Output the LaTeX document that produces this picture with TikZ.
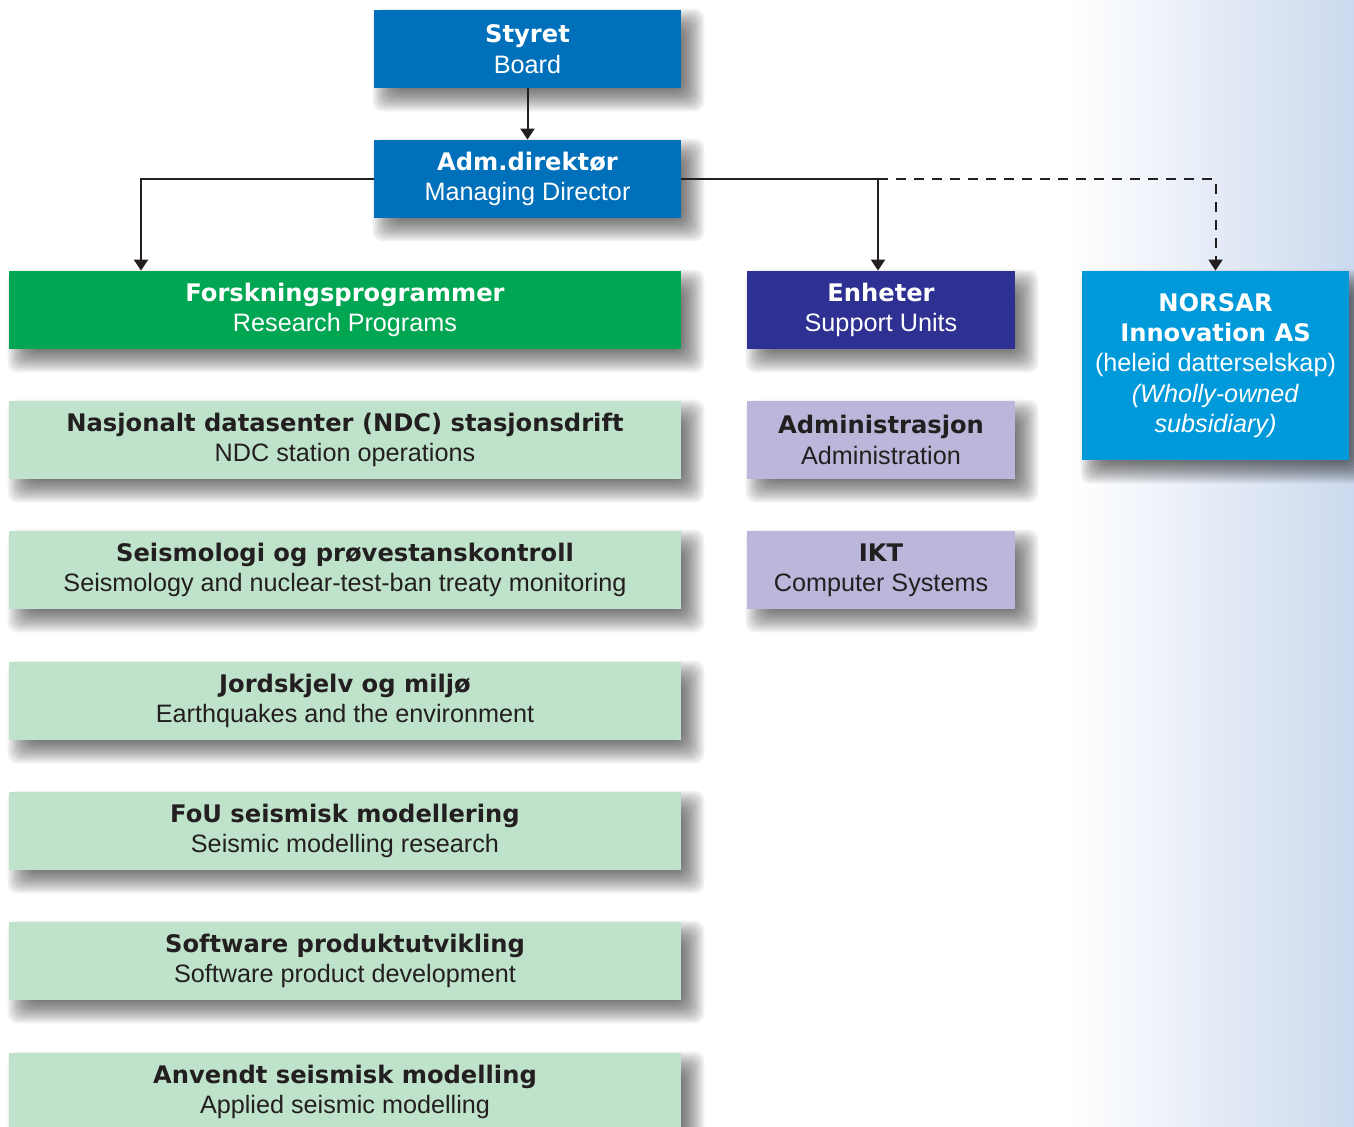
\documentclass[tikz,border=0pt]{standalone}
\usepackage{fontspec}
\setmainfont{Liberation Sans}
\newfontfamily\heavyfont{DejaVu Sans}
\usetikzlibrary{arrows.meta,positioning,calc}
\definecolor{boardblue}{RGB}{0,112,186}
\definecolor{progreen}{RGB}{0,166,81}
\definecolor{unitblue}{RGB}{46,49,146}
\definecolor{subblue}{RGB}{0,153,218}
\definecolor{palegreen}{RGB}{191,226,202}
\definecolor{lavender}{RGB}{186,183,219}
\definecolor{skyfade}{RGB}{204,217,238}
\definecolor{inkdark}{RGB}{35,31,32}
\pgfdeclarelayer{back}
\pgfdeclarelayer{shadow}
\pgfsetlayers{back,shadow,main}
\newcommand\hd[1]{{\heavyfont\bfseries\fontsize{12.1}{15.2}\selectfont #1}}
\newcommand\softshadow[1]{%
  \foreach \e in {-12,-10,...,12}
    \fill[black, opacity=0.058, rounded corners=5pt]
      ($(#1.north west)+(11-\e,11-\e)$) rectangle ($(#1.south east)+(11+\e,11+\e)$);}

\begin{document}
\begin{tikzpicture}[x=0.5pt, y=-0.5pt, font=\fontsize{12.6}{15.2}\selectfont,
      box/.style={minimum width=153.5pt, minimum height=39pt, inner sep=0pt, align=center},
      dark/.style={box, text=white},
      light/.style={box, text=inkdark},
      wide/.style={minimum width=336pt},
      unit/.style={minimum width=134pt},
      link/.style={line width=1pt, draw=inkdark, -{Triangle[width=7pt,length=5.5pt]}}]

    \useasboundingbox (0,0) rectangle (1354,1126);
    \begin{pgfonlayer}{back}
      \shade[left color=white, right color=skyfade] (1070,0) rectangle (1354,1126);
    \end{pgfonlayer}

    \node[dark, fill=boardblue] (styret) at (527.5,49)  {\hd{Styret}\\Board};
    \node[dark, fill=boardblue] (adm)    at (527.5,179) {\hd{Adm.direktør}\\Managing Director};

    \node[dark, wide, fill=progreen] (forsk)   at (345,310) {\hd{Forskningsprogrammer}\\Research Programs};
    \node[dark, unit, fill=unitblue] (enheter) at (881,310) {\hd{Enheter}\\Support Units};
    \node[dark, fill=subblue, minimum width=133.5pt, minimum height=94.5pt] (norsar) at (1215.5,365.5)
      {\hd{NORSAR}\\\hd{Innovation AS}\\(heleid datterselskap)\\\textit{(Wholly-owned}\\\textit{subsidiary)}};

    \node[light, wide, fill=palegreen] (ndc)   at (345,440)  {\hd{Nasjonalt datasenter (NDC) stasjonsdrift}\\NDC station operations};
    \node[light, wide, fill=palegreen] (seism) at (345,570)  {\hd{Seismologi og prøvestanskontroll}\\Seismology and nuclear-test-ban treaty monitoring};
    \node[light, wide, fill=palegreen] (jord)  at (345,701)  {\hd{Jordskjelv og miljø}\\Earthquakes and the environment};
    \node[light, wide, fill=palegreen] (fou)   at (345,831)  {\hd{FoU seismisk modellering}\\Seismic modelling research};
    \node[light, wide, fill=palegreen] (soft)  at (345,961)  {\hd{Software produktutvikling}\\Software product development};
    \node[light, wide, fill=palegreen] (anv)   at (345,1092) {\hd{Anvendt seismisk modelling}\\Applied seismic modelling};

    \node[light, unit, fill=lavender] (admin) at (881,440) {\hd{Administrasjon}\\Administration};
    \node[light, unit, fill=lavender] (ikt)   at (881,570) {\hd{IKT}\\Computer Systems};

    \begin{pgfonlayer}{shadow}
      \foreach \n in {styret,adm,forsk,enheter,norsar,ndc,seism,jord,fou,soft,anv,admin,ikt}
        {\softshadow{\n}}
    \end{pgfonlayer}

    \coordinate (lknee) at (141,179);
    \coordinate (rknee) at (878,179);

    \draw[link] (styret) -- (adm);
    \draw[link] (adm.west) -- (lknee) -- (lknee |- forsk.north);
    \draw[link] (adm.east) -- (rknee) -- (rknee |- enheter.north);
    \draw[link, dash pattern=on 5pt off 4pt] (rknee) -| (norsar.north);
  \end{tikzpicture}
\end{document}
